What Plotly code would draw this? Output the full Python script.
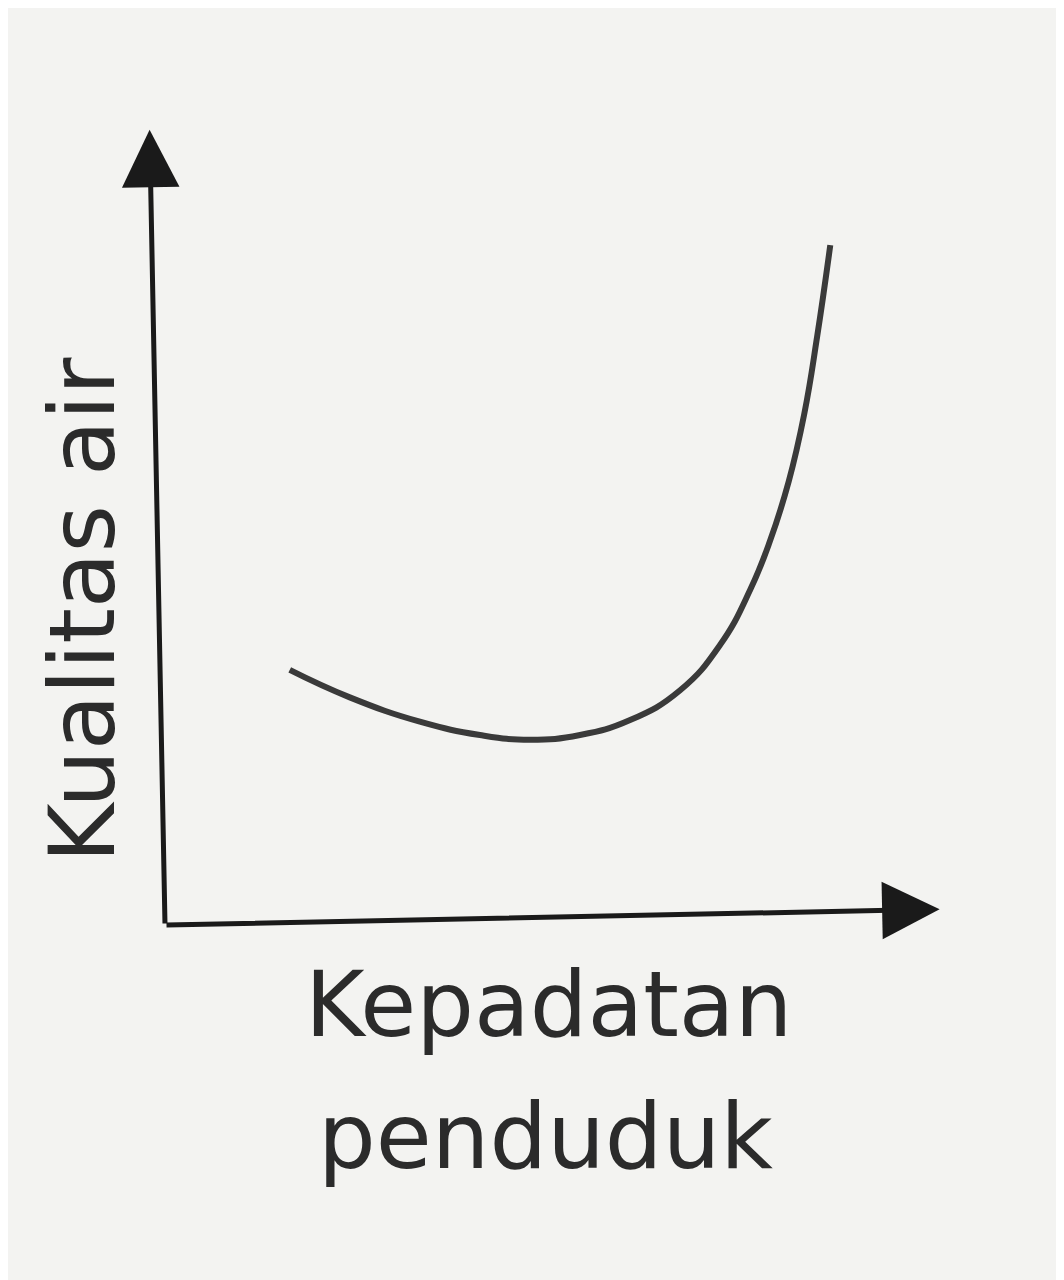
import plotly.graph_objects as go

# Data (arbitrary units 0-10)
kepadatan = [1.62, 2.40, 3.31, 4.09, 4.74, 5.39, 6.04, 6.69, 7.21, 7.60, 7.86, 8.10, 8.30, 8.47, 8.64]
kualitas = [3.25, 2.90, 2.59, 2.42, 2.36, 2.42, 2.61, 2.99, 3.57, 4.27, 4.90, 5.65, 6.50, 7.50, 8.66]
x_label_lines = ["Kepadatan", "penduduk"]
y_label = "Kualitas air"

W, H = 1064, 1280
OFF = 8  # page body margin
L, R, T, B = 165 - OFF, 129 + OFF, 140 - OFF, 355 + OFF

fig = go.Figure()
fig.add_trace(go.Scatter(x=kepadatan, y=kualitas, mode="lines",
                         line=dict(color="#3a3a3a", width=6, shape="spline", smoothing=1.3),
                         hoverinfo="skip", showlegend=False))

axis_col = "#1a1a1a"
# x axis arrow
fig.add_annotation(x=10.06, y=0.2, ax=0, ay=0, xref="x", yref="y", axref="x", ayref="y",
                   showarrow=True, arrowhead=2, arrowsize=2.3, arrowwidth=5, arrowcolor=axis_col, text="")
# y axis arrow
fig.add_annotation(x=-0.2, y=10.13, ax=0, ay=0, xref="x", yref="y", axref="x", ayref="y",
                   showarrow=True, arrowhead=2, arrowsize=2.3, arrowwidth=5, arrowcolor=axis_col, text="")

font = dict(family="DejaVu Sans", size=91, color="#2b2b2b")
fig.add_annotation(text=x_label_lines[0], xref="paper", yref="paper", x=(548 - 165) / 770, y=(925 - 1004) / 785,
                   showarrow=False, font=font, xanchor="center", yanchor="middle")
fig.add_annotation(text=x_label_lines[1], xref="paper", yref="paper", x=(545 - 165) / 770, y=(925 - 1136) / 785,
                   showarrow=False, font=font, xanchor="center", yanchor="middle")
fig.add_annotation(text=y_label, xref="paper", yref="paper", x=(82 - 165) / 770, y=(925 - 610) / 785,
                   showarrow=False, font=font, textangle=-90, xanchor="center", yanchor="middle")

fig.update_xaxes(range=[0, 10], visible=False, fixedrange=True)
fig.update_yaxes(range=[0, 10], visible=False, fixedrange=True)
fig.update_layout(width=W, height=H, margin=dict(l=L, r=R, t=T, b=B),
                  paper_bgcolor="#f3f3f1", plot_bgcolor="#f3f3f1", showlegend=False)

fig.write_html("out.html")
